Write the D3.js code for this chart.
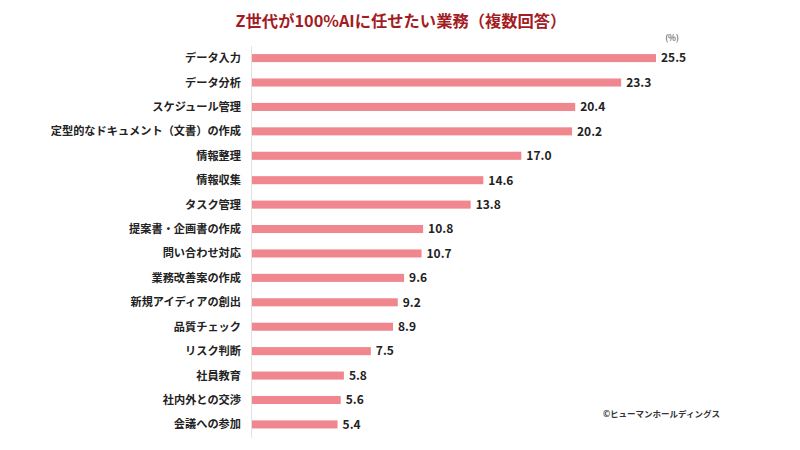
<!DOCTYPE html>
<html><head><meta charset="utf-8">
<script src="https://cdn.jsdelivr.net/npm/d3@7"></script>
<style>body{margin:0;background:#fff}svg{display:block}</style>
</head><body>
<svg id="c" width="800" height="450"></svg>
<script>
const categories = ["データ入力","データ分析","スケジュール管理","定型的なドキュメント（文書）の作成","情報整理","情報収集","タスク管理","提案書・企画書の作成","問い合わせ対応","業務改善案の作成","新規アイディアの創出","品質チェック","リスク判断","社員教育","社内外との交渉","会議への参加"];
const values = [25.5,23.3,20.4,20.2,17.0,14.6,13.8,10.8,10.7,9.6,9.2,8.9,7.5,5.8,5.6,5.4];
const title = "Z世代が100%AIに任せたい業務（複数回答）";
const unit = "(%)";
const credit = "©ヒューマンホールディングス";

const svg = d3.select("#c");
const font = "'Noto Sans CJK JP','Noto Sans',sans-serif";
const x0 = 252;
const x = d3.scaleLinear().domain([0, 25.5]).range([x0, 656]);
const y = d3.scaleBand().domain(categories).range([46, 436.5]).paddingInner(0.67).paddingOuter(0.33);

svg.append("line").attr("x1",x0-0.5).attr("x2",x0-0.5).attr("y1",46).attr("y2",438)
  .attr("stroke","#e2e2e2").attr("stroke-width",1);

svg.append("g").selectAll("rect").data(values).join("rect")
  .attr("x", x(0)).attr("y",(d,i)=>y(categories[i]))
  .attr("width", d=>x(d)-x(0)).attr("height", y.bandwidth())
  .attr("fill","#f0868e");

svg.append("g").selectAll("text").data(values).join("text")
  .attr("x", d=>x(d)+5).attr("y",(d,i)=>y(categories[i])+y.bandwidth()/2)
  .attr("dy","0.36em").attr("font-family",font).attr("font-weight","bold")
  .attr("font-size",12).attr("fill","#222").text(d=>d.toFixed(1));

svg.append("g").selectAll("text").data(categories).join("text")
  .attr("x", 241).attr("y",d=>y(d)+y.bandwidth()/2)
  .attr("dy","0.36em").attr("text-anchor","end").attr("font-family",font).attr("font-weight","bold")
  .attr("font-size",11.2).attr("fill","#222").text(d=>d);

svg.append("text").attr("x",401).attr("y",27).attr("text-anchor","middle")
  .attr("font-family",font).attr("font-weight","bold").attr("font-size",16.3)
  .attr("fill","#a31c23").text(title);

svg.append("text").attr("x",672).attr("y",41).attr("text-anchor","middle")
  .attr("font-family",font).attr("font-size",8.5).attr("fill","#333").text(unit);

svg.append("text").attr("x",720).attr("y",417).attr("text-anchor","end")
  .attr("font-family",font).attr("font-weight","bold").attr("font-size",8.5).attr("fill","#333").text(credit);
</script>
</body></html>
